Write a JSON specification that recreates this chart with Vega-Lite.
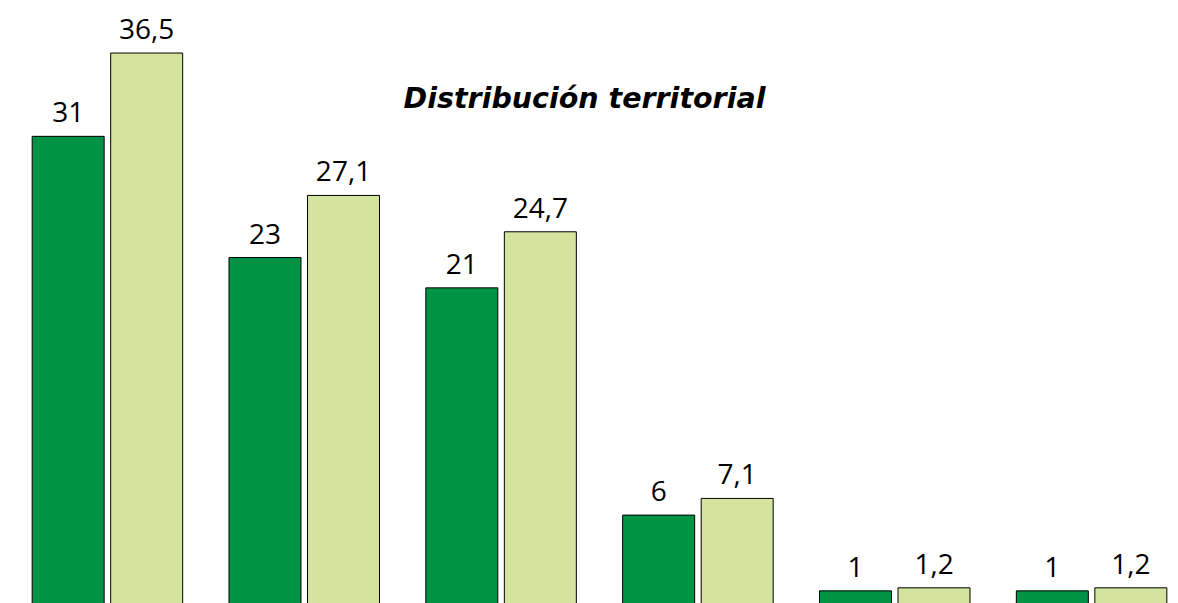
{
  "$schema": "https://vega.github.io/schema/vega-lite/v6.json",
  "width": 1181,
  "height": 606,
  "autosize": {"type": "none"},
  "padding": {"left": 9, "top": 0, "right": 0, "bottom": 0},
  "background": "white",
  "config": {
    "view": {"stroke": null},
    "locale": {"number": {"decimal": ",", "thousands": ".", "grouping": [3], "currency": ["", " €"]}}
  },
  "title": {
    "text": "Distribución territorial",
    "font": "DejaVu Sans",
    "fontSize": 28.5,
    "fontWeight": "bold",
    "fontStyle": "italic",
    "color": "black",
    "anchor": "middle",
    "baseline": "alphabetic",
    "frame": "group",
    "offset": 0,
    "dx": -15,
    "dy": 136
  },
  "data": {
    "values": [
      {"grupo": "G1", "serie": "A", "valor": 31},
      {"grupo": "G1", "serie": "B", "valor": 36.5},
      {"grupo": "G2", "serie": "A", "valor": 23},
      {"grupo": "G2", "serie": "B", "valor": 27.1},
      {"grupo": "G3", "serie": "A", "valor": 21},
      {"grupo": "G3", "serie": "B", "valor": 24.7},
      {"grupo": "G4", "serie": "A", "valor": 6},
      {"grupo": "G4", "serie": "B", "valor": 7.1},
      {"grupo": "G5", "serie": "A", "valor": 1},
      {"grupo": "G5", "serie": "B", "valor": 1.2},
      {"grupo": "G6", "serie": "A", "valor": 1},
      {"grupo": "G6", "serie": "B", "valor": 1.2}
    ]
  },
  "encoding": {
    "x": {"field": "grupo", "type": "nominal", "axis": null, "scale": {"paddingInner": 0, "paddingOuter": 0}},
    "xOffset": {"field": "serie", "type": "nominal", "scale": {"paddingInner": 0.083, "paddingOuter": 0.295}},
    "y": {"field": "valor", "type": "quantitative", "axis": null, "scale": {"domain": [0, 40], "nice": false, "zero": true}}
  },
  "layer": [
    {
      "mark": {"type": "bar", "stroke": "black", "strokeWidth": 1},
      "encoding": {
        "color": {"field": "serie", "type": "nominal", "legend": null, "scale": {"domain": ["A", "B"], "range": ["#009245", "#d4e39d"]}}
      }
    },
    {
      "mark": {"type": "text", "font": "Open Sans", "fontSize": 28, "baseline": "alphabetic", "dy": -14, "color": "black"},
      "encoding": {
        "text": {"field": "valor", "type": "quantitative", "format": ".1~f"}
      }
    }
  ]
}
